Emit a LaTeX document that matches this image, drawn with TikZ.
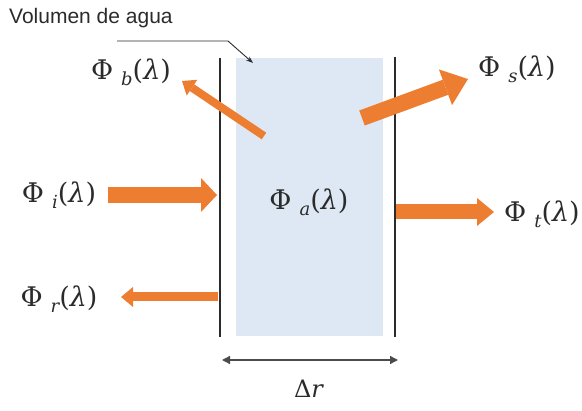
\documentclass[tikz,border=0pt]{standalone}
\usepackage{fontspec}
\newfontfamily\labelsans{Liberation Sans}
\newfontfamily\fluxfont{DejaVu Serif}
\usetikzlibrary{arrows.meta}
\definecolor{flux}{HTML}{ED7D31}
\definecolor{water}{HTML}{DEE8F4}
\definecolor{ink}{HTML}{2B2B2B}
\newcommand\fluxlabel[1]{Φ\hspace{8pt}\raisebox{-6pt}{\fontsize{18}{20}\selectfont\itshape #1}(\textit{λ})}
\tikzset{
  wall/.style={line width=1.6pt, draw=ink},
  fluxtext/.style={font=\fluxfont\fontsize{27}{30}\selectfont, text=ink, inner sep=0pt},
}
\begin{document}
\begin{tikzpicture}[x=1pt,y=-1pt]
\useasboundingbox (0,0) rectangle (582,411);
% water volume
\fill[water] (236,58) rectangle (383,336);
\draw[wall] (220,58) -- (220,337);
\draw[wall] (395,57) -- (395,337);
% coordinates
\coordinate (iS) at (108,195);
\coordinate (iE) at (217,195);
\coordinate (rS) at (218,297);
\coordinate (rE) at (121,297);
\coordinate (tS) at (396,212);
\coordinate (tE) at (494,212);
\coordinate (sS) at (362,118);
\coordinate (sE) at (468,79);
\coordinate (bS) at (264,136);
\coordinate (bE) at (182,81);
\coordinate (vS) at (117,41);
\coordinate (vM) at (228,41);
\coordinate (vE) at (253,63);
\coordinate (dL) at (222,360);
\coordinate (dR) at (398,360);
% labels
\node[fluxtext] (Li) at (59,195) {\fluxlabel{i}};
\node[fluxtext] (Lr) at (59,299) {\fluxlabel{r}};
\node[fluxtext] (Lb) at (131,72) {\fluxlabel{b}};
\node[fluxtext] (Ls) at (517,69) {\fluxlabel{s}};
\node[fluxtext] (La) at (309,202) {\fluxlabel{a}};
\node[fluxtext] (Lt) at (542,214) {\fluxlabel{t}};
\node[font=\fluxfont\fontsize{24}{28}\selectfont, text=ink, inner sep=0pt] (Ld) at (309,389) {Δ\textit{r}};
\node[font=\labelsans\fontsize{21}{24}\selectfont, text=ink, anchor=west, inner sep=0pt] (Lv) at (9,18) {Volumen de agua};
% flux arrows
\draw[draw=flux, line width=16pt, -{Triangle[length=16pt,width=34pt,line width=0pt]}] (iS) -- (iE);
\draw[draw=flux, line width=9pt, -{Triangle[length=12pt,width=20pt,line width=0pt]}] (rS) -- (rE);
\draw[draw=flux, line width=15pt, -{Triangle[length=17pt,width=28pt,line width=0pt]}] (tS) -- (tE);
\draw[draw=flux, line width=16pt, -{Triangle[length=24pt,width=38pt,line width=0pt]}] (sS) -- (sE);
\draw[draw=flux, line width=8pt, -{Triangle[length=12pt,width=19pt,line width=0pt]}] (bS) -- (bE);
% leader
\draw[ink, line width=0.9pt, -{Stealth[length=7pt,width=5pt]}] (vS) -- (vM) -- (vE);
% width
\draw[ink!85, line width=1.4pt, {Triangle[length=8pt,width=8pt]}-{Triangle[length=8pt,width=8pt]}] (dL) -- (dR);
\end{tikzpicture}
\end{document}
